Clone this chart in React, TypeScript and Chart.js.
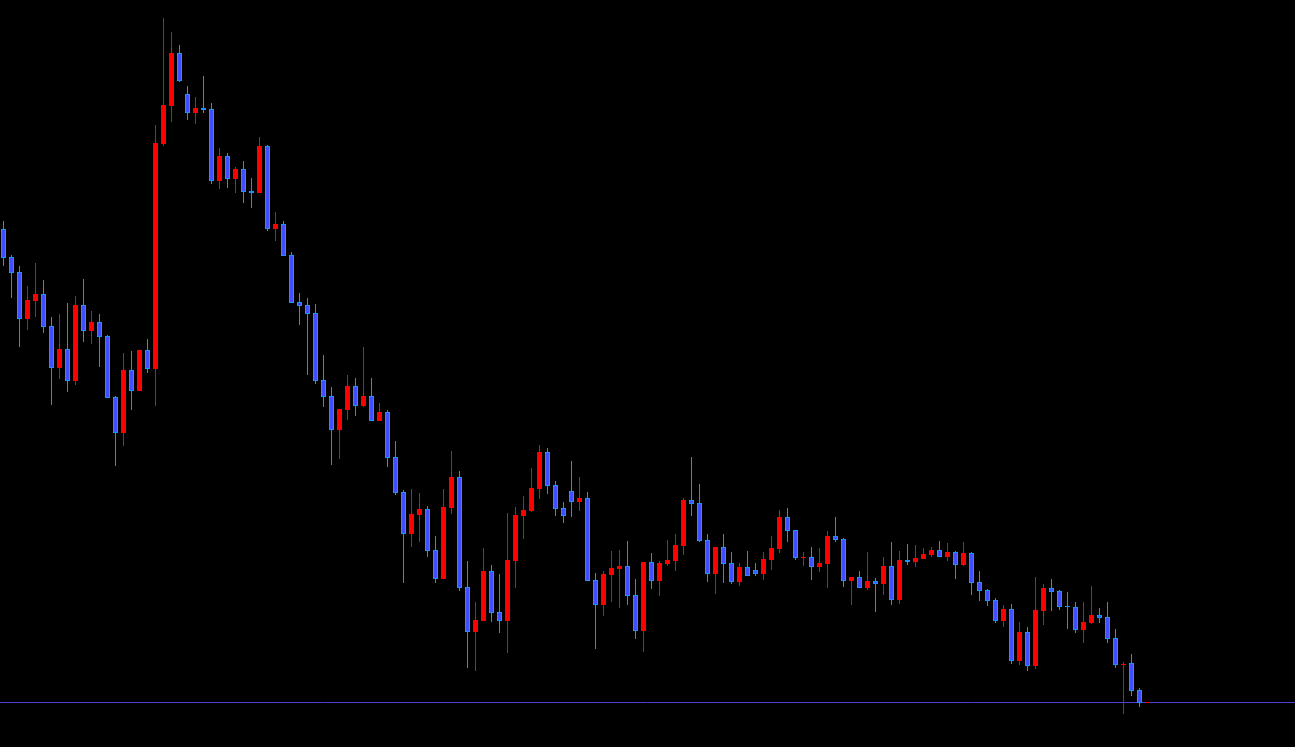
import React, { useEffect, useRef } from "react";
import { Chart, registerables } from "chart.js";

Chart.register(...registerables);

// Price levels, on a downward-growing scale (0 = top of frame, 747 = bottom).
const opens = [
  229, 257, 272, 319, 301, 294, 326, 368, 349, 381,
  305, 331, 322, 336, 397, 433, 370, 391, 350, 369,
  144, 106, 53, 94, 113, 108, 109, 181, 156, 179,
  169, 191, 193, 146, 229, 224, 255, 302, 305, 313,
  380, 396, 430, 410, 386, 406, 396, 421, 412, 457,
  492, 534, 515, 509, 550, 579, 508, 477, 587, 632,
  621, 571, 612, 621, 561, 516, 511, 489, 452, 485,
  508, 491, 502, 498, 580, 605, 575, 569, 566, 595,
  631, 562, 581, 564, 561, 546, 500, 503, 540, 574,
  547, 563, 582, 567, 570, 574, 560, 549, 517, 530,
  558, 557, 567, 564, 536, 539, 581, 577, 588, 581,
  584, 566, 600, 560, 562, 559, 555, 550, 557, 552,
  565, 553, 582, 590, 600, 621, 609, 661, 632, 666,
  611, 588, 591, 606, 607, 630, 623, 615, 617, 638,
  665, 663, 690, 703,
];

const highs = [
  221, 255, 266, 286, 263, 280, 317, 314, 303, 296,
  279, 311, 314, 335, 396, 353, 351, 350, 339, 125,
  18, 32, 45, 86, 97, 76, 103, 148, 153, 167,
  161, 178, 137, 145, 212, 221, 252, 293, 298, 304,
  355, 387, 409, 375, 378, 347, 378, 403, 410, 441,
  490, 489, 493, 506, 536, 489, 451, 471, 561, 602,
  548, 565, 574, 513, 507, 496, 468, 445, 448, 481,
  502, 461, 477, 492, 573, 571, 551, 550, 541, 579,
  562, 553, 561, 540, 534, 498, 457, 484, 534, 547,
  534, 552, 563, 551, 563, 552, 536, 510, 508, 530,
  552, 547, 548, 531, 517, 538, 577, 571, 552, 578,
  557, 542, 551, 544, 545, 548, 547, 541, 543, 551,
  542, 552, 571, 589, 598, 605, 604, 622, 627, 577,
  584, 579, 590, 592, 602, 602, 586, 608, 602, 629,
  662, 654, 688, 702,
];

const lows = [
  266, 298, 347, 330, 317, 333, 405, 379, 392, 385,
  342, 344, 367, 398, 466, 446, 410, 391, 373, 406,
  146, 122, 82, 120, 124, 113, 184, 189, 188, 193,
  203, 208, 193, 231, 241, 256, 303, 325, 375, 384,
  407, 465, 459, 420, 416, 407, 421, 421, 467, 495,
  583, 547, 542, 557, 583, 579, 514, 591, 668, 671,
  621, 622, 633, 653, 588, 539, 512, 499, 494, 516,
  523, 517, 511, 581, 649, 616, 602, 608, 605, 639,
  652, 589, 596, 566, 571, 555, 516, 542, 582, 594,
  583, 584, 586, 576, 576, 580, 570, 553, 542, 560,
  566, 580, 572, 588, 542, 587, 605, 588, 590, 612,
  595, 605, 604, 565, 567, 559, 557, 557, 561, 579,
  566, 595, 601, 606, 623, 627, 664, 665, 671, 669,
  625, 611, 610, 629, 633, 643, 624, 623, 643, 668,
  714, 696, 707, 703,
];

const closes = [
  258, 273, 319, 300, 294, 327, 368, 349, 381, 305,
  331, 322, 337, 398, 433, 370, 391, 350, 369, 143,
  105, 53, 81, 113, 108, 110, 181, 156, 179, 169,
  192, 193, 146, 229, 224, 256, 303, 306, 314, 381,
  397, 430, 409, 386, 406, 396, 421, 412, 458, 493,
  534, 514, 509, 551, 579, 507, 477, 588, 632, 620,
  571, 613, 621, 560, 515, 510, 488, 452, 486, 509,
  516, 502, 498, 581, 605, 574, 568, 566, 596, 631,
  562, 581, 563, 560, 545, 500, 504, 541, 574, 547,
  564, 582, 567, 576, 574, 559, 548, 517, 531, 558,
  557, 567, 563, 536, 540, 581, 577, 588, 581, 584,
  566, 600, 560, 562, 558, 554, 550, 557, 552, 565,
  553, 583, 591, 601, 621, 609, 661, 632, 666, 610,
  588, 592, 607, 607, 630, 622, 615, 618, 639, 665,
  664, 691, 703, 702,
];

const bidLevel = 702.5;

const UP_COLOR = "#ff0000";
const DOWN_FILL = "#4050ff";
const DOWN_EDGE = "#2090ff";
const BID_COLOR = "#5040d0";

export default function App() {
  const ref = useRef<HTMLCanvasElement>(null);

  useEffect(() => {
    const canvas = ref.current;
    if (!canvas) return;
    const idx = opens.map((_, i) => i);
    // axis grows downward, so a rising candle has close < open
    const up = idx.map((i) => closes[i] < opens[i]);

    const chart = new Chart(canvas, {
      type: "bar",
      data: {
        datasets: [
          {
            type: "line",
            data: [
              { x: -2, y: bidLevel },
              { x: 170, y: bidLevel },
            ],
            borderColor: BID_COLOR,
            borderWidth: 1,
            pointRadius: 0,
            order: 3,
          } as any,
          {
            data: idx.map((i) => ({ x: i, y: [highs[i], lows[i]] })),
            backgroundColor: idx.map((i) => (up[i] ? UP_COLOR : DOWN_EDGE)),
            borderWidth: 0,
            grouped: false,
            maxBarThickness: 1,
            inflateAmount: 0,
            order: 2,
          } as any,
          {
            data: idx.map((i) => ({ x: i, y: [opens[i], closes[i]] })),
            backgroundColor: idx.map((i) => (up[i] ? UP_COLOR : DOWN_FILL)),
            borderColor: idx.map((i) => (up[i] ? UP_COLOR : DOWN_EDGE)),
            borderWidth: 1,
            borderSkipped: false,
            grouped: false,
            maxBarThickness: 5,
            inflateAmount: 0,
            order: 1,
          } as any,
        ],
      },
      options: {
        animation: false,
        responsive: false,
        events: [],
        layout: { padding: 0 },
        plugins: {
          legend: { display: false },
          tooltip: { enabled: false },
        },
        scales: {
          x: {
            type: "linear",
            display: false,
            offset: false,
            min: -0.4375,
            max: 161.4375,
          },
          y: {
            type: "linear",
            display: false,
            reverse: true,
            min: 0,
            max: 747,
          },
        },
      } as any,
    });

    return () => chart.destroy();
  }, []);

  return (
    <div
      style={{
        position: "fixed",
        left: 0,
        top: 0,
        width: 1295,
        height: 747,
        background: "#000",
      }}
    >
      <canvas ref={ref} width={1295} height={747} style={{ display: "block" }} />
    </div>
  );
}
